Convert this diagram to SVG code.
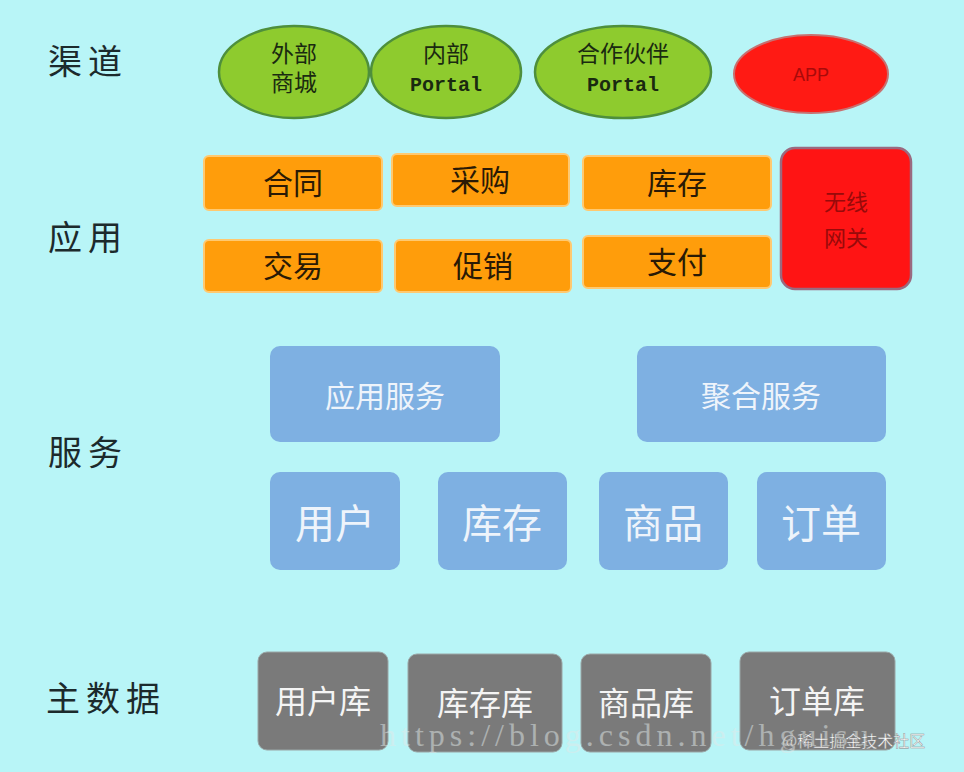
<svg xmlns="http://www.w3.org/2000/svg" width="964" height="772" viewBox="0 0 964 772">
<style>
.lbl{font-family:"Noto Sans CJK SC","Noto Sans",sans-serif;font-size:34px;fill:#1c2a2c;letter-spacing:6px}
.ell{fill:#8ecb2e;stroke:#4e8f3c;stroke-width:2.5}
.etx{font-family:"Noto Sans CJK SC","Noto Sans",sans-serif;font-size:23px;fill:#1a2a10;text-anchor:middle}
.mono{font-family:"Liberation Mono","DejaVu Sans Mono",monospace;font-size:20px;font-weight:bold;fill:#1a2a10;text-anchor:middle}
.org{fill:#ff9d0b;stroke:#ffc970;stroke-width:2}
.otx{font-family:"Noto Sans CJK SC","Noto Sans",sans-serif;font-size:30px;fill:#2a1a05;text-anchor:middle}
.blu{fill:#7eb0e2}
.btx{font-family:"Noto Sans CJK SC","Noto Sans",sans-serif;fill:#eef4fb;text-anchor:middle}
.gry{fill:#7a7a7a;stroke:#9aa6a6;stroke-width:1}
.gtx{font-family:"Noto Sans CJK SC","Noto Sans",sans-serif;font-size:32px;fill:#f4f4f4;text-anchor:middle}
</style>
<rect width="964" height="772" fill="#b8f5f7"/>
<g id="layer-labels">
<text class="lbl" x="48" y="74">渠道</text>
<text class="lbl" x="48" y="250">应用</text>
<text class="lbl" x="48" y="465">服务</text>
<text class="lbl" x="46" y="711">主数据</text>
</g>
<g id="ch-external">
<ellipse class="ell" cx="294" cy="72" rx="75" ry="46"/>
<text class="etx" x="294" y="62">外部</text>
<text class="etx" x="294" y="91">商城</text>
</g>
<g id="ch-internal">
<ellipse class="ell" cx="446" cy="72" rx="75" ry="46"/>
<text class="etx" x="446" y="62">内部</text>
<text class="mono" x="446" y="91">Portal</text>
</g>
<g id="ch-partner">
<ellipse class="ell" cx="623" cy="72" rx="88" ry="46"/>
<text class="etx" x="623" y="62">合作伙伴</text>
<text class="mono" x="623" y="91">Portal</text>
</g>
<g id="ch-app">
<ellipse cx="811" cy="74" rx="77" ry="39" fill="#ff1a14" stroke="#c87070" stroke-width="2"/>
<text x="811" y="81" font-family="Liberation Sans,sans-serif" font-size="18" fill="#a80a0a" text-anchor="middle">APP</text>
</g>
<g id="app-contract"><rect class="org" x="204" y="156" width="178" height="54" rx="5"/><text class="otx" x="293" y="194">合同</text></g>
<g id="app-purchase"><rect class="org" x="392" y="154" width="177" height="52" rx="5"/><text class="otx" x="480" y="191">采购</text></g>
<g id="app-stock"><rect class="org" x="583" y="156" width="188" height="54" rx="5"/><text class="otx" x="677" y="194">库存</text></g>
<g id="app-trade"><rect class="org" x="204" y="240" width="178" height="52" rx="5"/><text class="otx" x="293" y="277">交易</text></g>
<g id="app-promo"><rect class="org" x="395" y="240" width="176" height="52" rx="5"/><text class="otx" x="483" y="277">促销</text></g>
<g id="app-pay"><rect class="org" x="583" y="236" width="188" height="52" rx="5"/><text class="otx" x="677" y="273">支付</text></g>
<g id="app-gateway">
<rect x="781" y="148" width="130" height="141" rx="14" fill="#ff1414" stroke="#9a6a80" stroke-width="2.5"/>
<text x="846" y="210" font-family="Noto Sans CJK SC,sans-serif" font-size="22" fill="#980a0a" text-anchor="middle">无线</text>
<text x="846" y="246" font-family="Noto Sans CJK SC,sans-serif" font-size="22" fill="#980a0a" text-anchor="middle">网关</text>
</g>
<g id="svc-app"><rect class="blu" x="270" y="346" width="230" height="96" rx="10"/><text class="btx" x="385" y="407" font-size="30">应用服务</text></g>
<g id="svc-agg"><rect class="blu" x="637" y="346" width="249" height="96" rx="10"/><text class="btx" x="761" y="407" font-size="30">聚合服务</text></g>
<g id="svc-user"><rect class="blu" x="270" y="472" width="130" height="98" rx="10"/><text class="btx" x="335" y="538" font-size="40">用户</text></g>
<g id="svc-stock"><rect class="blu" x="438" y="472" width="129" height="98" rx="10"/><text class="btx" x="502" y="538" font-size="40">库存</text></g>
<g id="svc-goods"><rect class="blu" x="599" y="472" width="129" height="98" rx="10"/><text class="btx" x="663" y="538" font-size="40">商品</text></g>
<g id="svc-order"><rect class="blu" x="757" y="472" width="129" height="98" rx="10"/><text class="btx" x="821" y="538" font-size="40">订单</text></g>
<g id="db-user"><rect class="gry" x="258" y="652" width="130" height="98" rx="9"/><text class="gtx" x="323" y="713">用户库</text></g>
<g id="db-stock"><rect class="gry" x="408" y="654" width="154" height="98" rx="9"/><text class="gtx" x="485" y="715">库存库</text></g>
<g id="db-goods"><rect class="gry" x="581" y="654" width="130" height="98" rx="9"/><text class="gtx" x="646" y="715">商品库</text></g>
<g id="db-order"><rect class="gry" x="740" y="652" width="155" height="98" rx="9"/><text class="gtx" x="817" y="713">订单库</text></g>
<g id="connectors"></g>
<g id="watermark">
<text x="380" y="746" font-family="Liberation Serif,serif" font-size="32" fill="#e0e8e8" fill-opacity="0.5" letter-spacing="5">https://blog.csdn.net/hguisu</text>
<text x="782" y="747" font-family="Noto Sans CJK SC,sans-serif" font-size="16" fill="#ffffff" stroke="#808080" stroke-width="0.4">@稀土掘金技术社区</text>
</g>
</svg>
